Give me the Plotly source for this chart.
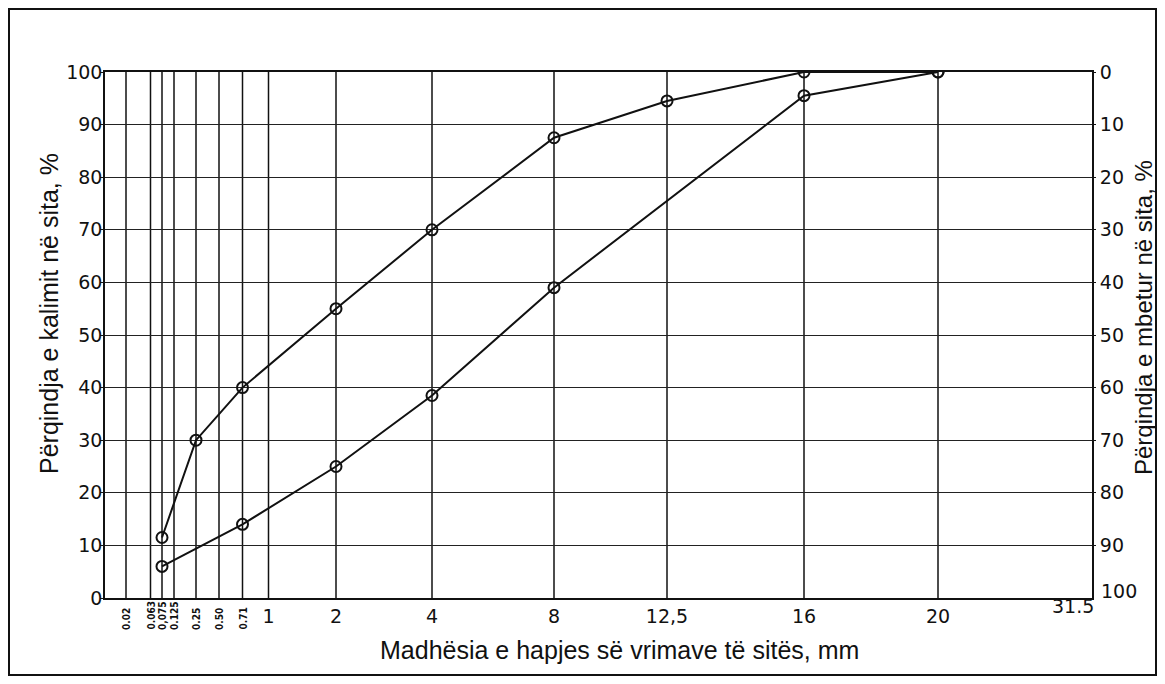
import plotly.graph_objects as go

# Sieve sizes (mm) and their positions on the chart's custom (non-linear) sieve scale
sieve_sizes = [0.02, 0.063, 0.075, 0.125, 0.25, 0.50, 0.71, 1, 2, 4, 8, 12.5, 16, 20, 31.5]
sieve_scale = [21, 45.5, 57, 69, 91, 114, 137.5, 163.5, 231, 327, 449, 562, 699, 833, 987]
small_labels = ["0.02", "0.063", "0,075", "0.125", "0.25", "0.50", "0.71"]
big_labels = ["1", "2", "4", "8", "12,5", "16", "20"]

# Grading curves (percent passing)
upper_sieves = [0.075, 0.25, 0.71, 2, 4, 8, 12.5, 16, 20]
upper_pass = [11.5, 30, 40, 55, 70, 87.5, 94.5, 100, 100]
lower_sieves = [0.075, 0.71, 2, 4, 8, 16, 20]
lower_pass = [6, 14, 25, 38.5, 59, 95.5, 100]

y_ticks = list(range(0, 101, 10))

x_title = "Madhësia e hapjes së vrimave të sitës, mm"
y_title_left = "Përqindja e kalimit në sita, %"
y_title_right = "Përqindja e mbetur në sita, %"

pos = dict(zip(sieve_sizes, sieve_scale))

# page body has an 8px margin, so the figure is laid out 8px smaller/shifted
OFF = 8
W, H = 1149, 668
L, T = 97, 64
PW, PH = 987, 526
R, B = W - L - PW, H - T - PH


def px_x(sx):  # screenshot x -> paper x
    return (sx - OFF - L) / PW


def px_y(sy):  # screenshot y -> paper y
    return (T + PH - (sy - OFF)) / PH


tick_font = dict(family="DejaVu Sans", size=19, color="#111")
title_font_x = dict(family="Liberation Sans, Arial", size=25, color="#111")
title_font_y = dict(family="Liberation Sans, Arial", size=25, color="#111")

fig = go.Figure()
for sv, pv in [(upper_sieves, upper_pass), (lower_sieves, lower_pass)]:
    fig.add_trace(go.Scatter(
        x=[pos[s] for s in sv], y=pv, mode="lines+markers",
        line=dict(color="#111", width=2),
        marker=dict(symbol="circle-open", size=11, color="#111", line=dict(width=2)),
        showlegend=False, hoverinfo="skip"))

# invisible trace for right axis
fig.add_trace(go.Scatter(x=[0], y=[0], yaxis="y2", mode="markers",
                         marker=dict(opacity=0), showlegend=False, hoverinfo="skip"))

big_pos = [pos[s] for s in sieve_sizes[7:14]]

fig.update_layout(
    width=W, height=H,
    margin=dict(l=L, r=R, t=T, b=B, autoexpand=False),
    paper_bgcolor="white", plot_bgcolor="white",
    xaxis=dict(
        range=[0, sieve_scale[-1]], tickmode="array",
        tickvals=big_pos, ticktext=big_labels,
        showgrid=False, zeroline=False,
        showline=True, linecolor="#111", linewidth=1.5, mirror=True,
        ticks="", tickfont=tick_font, ticklabelstandoff=0,
        automargin=False,
    ),
    yaxis=dict(
        range=[0, 100], tickmode="array", tickvals=y_ticks,
        showgrid=True, gridcolor="#222", gridwidth=1.2,
        zeroline=False, showline=True, linecolor="#111", linewidth=1.5, mirror=True,
        ticks="outside", ticklen=3, tickcolor="#111", tickfont=tick_font,
        ticklabelstandoff=-6,
        automargin=False,
    ),
    yaxis2=dict(
        range=[100, 0], overlaying="y", side="right", tickmode="array",
        tickvals=y_ticks[:-1], showgrid=False, zeroline=False,
        ticks="outside", ticklen=3, tickcolor="#111", tickfont=tick_font,
        ticklabelstandoff=0,
        automargin=False,
    ),
)

# vertical sieve grid lines
shapes = []
for s in sieve_sizes[:-1]:
    shapes.append(dict(type="line", xref="x", yref="paper", x0=pos[s], x1=pos[s],
                       y0=0, y1=1, line=dict(color="#111", width=1.5), layer="below"))
# outer frame around whole picture
shapes.append(dict(type="rect", xref="paper", yref="paper",
                   x0=px_x(9), x1=px_x(OFF + W - 1), y0=px_y(OFF + H - 1), y1=px_y(9),
                   line=dict(color="#111", width=2), fillcolor="rgba(0,0,0,0)"))
fig.update_layout(shapes=shapes)

ann = []
for s, lab in zip(sieve_sizes[:7], small_labels):
    ann.append(dict(x=pos[s], xref="x", y=px_y(632), yref="paper",
                    text="<b>" + lab + "</b>", textangle=-90, showarrow=False,
                    xanchor="center", yanchor="bottom",
                    font=dict(family="DejaVu Sans Condensed, DejaVu Sans", size=10, color="#111")))
ann.append(dict(x=sieve_scale[-1] - 19, xref="x", y=px_y(606), yref="paper",
                text="31.5", showarrow=False, xanchor="center", yanchor="middle", font=tick_font))
ann.append(dict(x=px_x(1099), xref="paper", y=px_y(591), yref="paper",
                text="100", showarrow=False, xanchor="left", yanchor="middle", font=tick_font))
# axis titles
ann.append(dict(x=px_x(619), xref="paper", y=px_y(650), yref="paper", text=x_title,
                showarrow=False, xanchor="center", yanchor="middle", font=title_font_x))
ann.append(dict(x=px_x(49), xref="paper", y=px_y(314), yref="paper", text=y_title_left,
                textangle=-90, showarrow=False, xanchor="center", yanchor="middle",
                font=title_font_y))
ann.append(dict(x=px_x(1143), xref="paper", y=px_y(318), yref="paper", text=y_title_right,
                textangle=-90, showarrow=False, xanchor="center", yanchor="middle",
                font=dict(family="Liberation Sans, Arial", size=24, color="#111")))
fig.update_layout(annotations=ann)

fig.write_html("out.html")
